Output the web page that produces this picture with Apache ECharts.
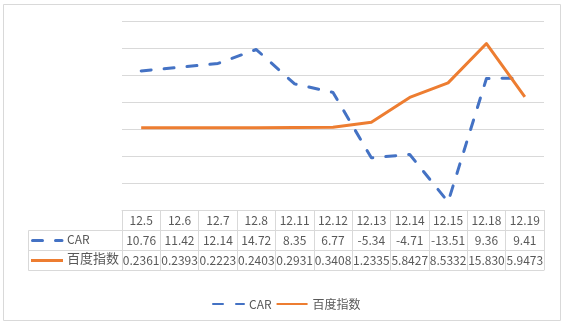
<!DOCTYPE html>
<html>
<head>
<meta charset="utf-8">
<script src="https://cdn.jsdelivr.net/npm/echarts@6/dist/echarts.min.js"></script>
<style>
html,body{margin:0;padding:0;background:#fff;}
#chart{width:564px;height:324px;}
</style>
</head>
<body>
<div id="chart"></div>
<script>
const categories = ['12.5','12.6','12.7','12.8','12.11','12.12','12.13','12.14','12.15','12.18','12.19'];
const carValues = [10.76, 11.42, 12.14, 14.72, 8.35, 6.77, -5.34, -4.71, -13.51, 9.36, 9.41];
const baiduValues = [0.2361, 0.2393, 0.2223, 0.2403, 0.2931, 0.3408, 1.2335, 5.8427, 8.5332, 15.830, 5.9473];
const seriesNames = ['CAR', '百度指数'];

const carLabels = carValues.map(v => v.toFixed(2));
const baiduLabels = baiduValues.map(v => v >= 10 ? v.toFixed(3) : v.toFixed(4));

const FONT = '"Noto Sans CJK SC", "Noto Sans", sans-serif';
const TXT = '#595959';
const LINE = '#d9d9d9';
const BLUE = '#4472C4';
const ORANGE = '#ED7D31';

const chart = echarts.init(document.getElementById('chart'), null, {renderer: 'canvas'});

function tableAxis(data, offset, showLabel, showTick) {
  return {
    type: 'category',
    position: 'bottom',
    offset: offset,
    data: data,
    boundaryGap: true,
    axisLine: {show: true, onZero: false, lineStyle: {color: LINE, width: 1}},
    axisTick: {show: showTick, length: 60, inside: false, alignWithLabel: false, interval: 0, lineStyle: {color: LINE, width: 1}},
    axisLabel: {show: showLabel, interval: 0, margin: 10, verticalAlign: 'middle', color: TXT, fontSize: 12, fontFamily: FONT, hideOverlap: false},
    splitLine: {show: false}
  };
}

const option = {
  backgroundColor: '#fff',
  animation: false,
  textStyle: {fontFamily: FONT},
  grid: {left: 122, right: 20, top: 21, bottom: 114, containLabel: false},
  xAxis: [
    tableAxis(categories, 0, true, true),
    tableAxis(carLabels, 20, true, false),
    tableAxis(baiduLabels, 40, true, false),
    tableAxis(categories, 60, false, false)
  ],
  yAxis: {
    type: 'value',
    min: -15, max: 20, interval: 5,
    axisLine: {show: false},
    axisTick: {show: false},
    axisLabel: {show: false},
    splitLine: {show: true, lineStyle: {color: LINE, width: 1}}
  },
  legend: {
    data: seriesNames,
    left: 207,
    top: 293,
    itemWidth: 31,
    itemHeight: 14,
    itemGap: 4,
    itemStyle: {opacity: 0},
    textStyle: {color: TXT, fontSize: 12, fontFamily: FONT}
  },
  series: [
    {
      name: seriesNames[0],
      type: 'line',
      data: carValues,
      xAxisIndex: 0,
      symbol: 'none',
      color: BLUE,
      lineStyle: {color: BLUE, width: 3, type: [10, 13], cap: 'round', join: 'round'}
    },
    {
      name: seriesNames[1],
      type: 'line',
      data: baiduValues,
      xAxisIndex: 0,
      symbol: 'none',
      color: ORANGE,
      lineStyle: {color: ORANGE, width: 3, join: 'round'}
    }
  ],
  graphic: [
    {type: 'rect', shape: {x: 3.5, y: 4.5, width: 557, height: 316}, style: {fill: 'none', stroke: LINE, lineWidth: 1}, silent: true},
    {type: 'line', shape: {x1: 28.5, y1: 230.5, x2: 122, y2: 230.5}, style: {stroke: LINE, lineWidth: 1}},
    {type: 'line', shape: {x1: 28.5, y1: 250.5, x2: 122, y2: 250.5}, style: {stroke: LINE, lineWidth: 1}},
    {type: 'line', shape: {x1: 28.5, y1: 270.5, x2: 122, y2: 270.5}, style: {stroke: LINE, lineWidth: 1}},
    {type: 'line', shape: {x1: 28.5, y1: 230.5, x2: 28.5, y2: 270.5}, style: {stroke: LINE, lineWidth: 1}},
    {type: 'line', shape: {x1: 32.5, y1: 240.5, x2: 62, y2: 240.5}, style: {stroke: BLUE, lineWidth: 3, lineDash: [10, 13], lineCap: 'round'}},
    {type: 'text', left: 67, top: 233, style: {text: seriesNames[0], fill: TXT, font: '12px ' + FONT}},
    {type: 'line', shape: {x1: 31, y1: 260.5, x2: 63, y2: 260.5}, style: {stroke: ORANGE, lineWidth: 3}},
    {type: 'text', left: 67, top: 252, style: {text: seriesNames[1], fill: TXT, font: '13px ' + FONT}}
  ]
};
chart.setOption(option);
</script>
</body>
</html>
